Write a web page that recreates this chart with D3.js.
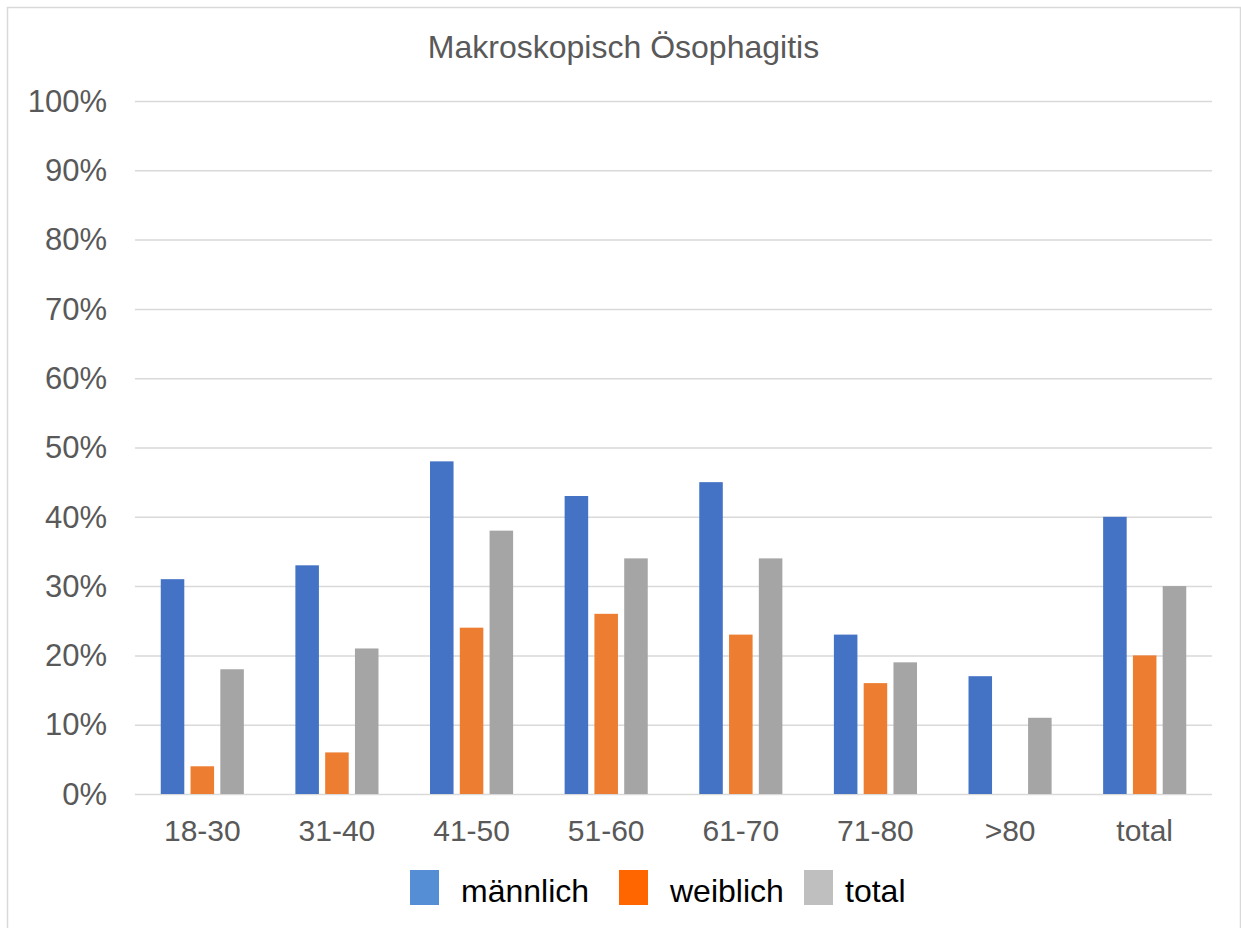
<!doctype html>
<html lang="de">
<head>
<meta charset="UTF-8" />
<title>Makroskopisch Ösophagitis</title>
<script src="https://d3js.org/d3.v7.min.js"></script>
<style>
  body { margin: 0; background: #fff; font-family: 'Liberation Sans', Arial, sans-serif; }
  .grid line { stroke: #d9d9d9; stroke-width: 1.5px; }
  .axis text { fill: #595959; font-size: 30px; }
  .yaxis text { font-size: 31px; }
</style>
</head>
<body>
<div id="chart-container"></div>
<script>
var categories = ['18-30', '31-40', '41-50', '51-60', '61-70', '71-80', '>80', 'total'];
var seriesNames = ['männlich', 'weiblich', 'total'];
var maennlich = [31, 33, 48, 43, 45, 23, 17, 40];
var weiblich = [4, 6, 24, 26, 23, 16, 0, 20];
var gesamt = [18, 21, 38, 34, 34, 19, 11, 30];
var yTicks = [0, 10, 20, 30, 40, 50, 60, 70, 80, 90, 100];

var barColors = ['#4472C4', '#ED7D31', '#A5A5A5'];
var legendColors = ['#558ED5', '#FF6600', '#BFBFBF'];

var canvasWidth = 1241;
var canvasHeight = 928;
var margin = { top: 101, right: 29, bottom: 134, left: 135 };
var width = canvasWidth - margin.left - margin.right;
var height = canvasHeight - margin.top - margin.bottom;

var data = categories.map(function (c, i) {
    return { cat: c, values: [maennlich[i], weiblich[i], gesamt[i]] };
});

var svg = d3.select('#chart-container')
    .append('svg')
    .attr('width', canvasWidth)
    .attr('height', canvasHeight);

// chart frame
svg.append('rect')
    .attr('x', 7.5).attr('y', 7.5)
    .attr('width', canvasWidth - 8).attr('height', canvasHeight)
    .attr('fill', '#fff')
    .attr('stroke', '#d9d9d9')
    .attr('stroke-width', 1.5);

var g = svg.append('g')
    .attr('transform', 'translate(' + margin.left + ',' + margin.top + ')');

var x0 = d3.scaleBand().domain(categories).range([0, width]).padding(0);
var groupW = 83.1;
var x1 = d3.scaleBand()
    .domain(seriesNames)
    .range([(x0.bandwidth() - groupW) / 2, (x0.bandwidth() + groupW) / 2])
    .paddingInner(0.21)
    .paddingOuter(0);
var y = d3.scaleLinear().domain([0, 100]).range([height, 0]);

// gridlines
g.append('g')
    .attr('class', 'grid')
    .call(d3.axisLeft(y).tickValues(yTicks).tickSize(-width).tickFormat(''))
    .call(function (s) { s.select('.domain').remove(); });

// y axis labels
g.append('g')
    .attr('class', 'axis yaxis')
    .attr('transform', 'translate(-28,0)')
    .call(d3.axisLeft(y).tickValues(yTicks).tickSize(0).tickPadding(0)
        .tickFormat(function (d) { return d + '%'; }))
    .call(function (s) { s.select('.domain').remove(); })
    .selectAll('text').attr('dy', '0.33em');

// x axis labels
g.append('g')
    .attr('class', 'axis')
    .attr('transform', 'translate(0,' + height + ')')
    .call(d3.axisBottom(x0).tickSize(0).tickPadding(26))
    .call(function (s) { s.select('.domain').remove(); });

// bars
var groups = g.selectAll('.group')
    .data(data)
    .enter()
    .append('g')
    .attr('class', 'group')
    .attr('transform', function (d) { return 'translate(' + x0(d.cat) + ',0)'; });

groups.selectAll('rect')
    .data(function (d) {
        return d.values.map(function (v, i) { return { key: seriesNames[i], value: v, idx: i }; });
    })
    .enter()
    .append('rect')
    .attr('x', function (d) { return x1(d.key); })
    .attr('y', function (d) { return y(d.value); })
    .attr('width', x1.bandwidth())
    .attr('height', function (d) { return height - y(d.value); })
    .attr('fill', function (d) { return barColors[d.idx]; });

// title
svg.append('text')
    .attr('x', 623.5)
    .attr('y', 58)
    .attr('text-anchor', 'middle')
    .attr('fill', '#595959')
    .attr('font-size', '32px')
    .text('Makroskopisch Ösophagitis');

// legend
var legendX = [410, 619, 804];
var legend = svg.selectAll('.legend')
    .data(seriesNames)
    .enter()
    .append('g')
    .attr('class', 'legend')
    .attr('transform', function (d, i) { return 'translate(' + legendX[i] + ',870)'; });

legend.append('rect')
    .attr('width', 29)
    .attr('height', 35)
    .attr('fill', function (d, i) { return legendColors[i]; });

legend.append('text')
    .attr('x', function (d, i) { return i === 2 ? 41 : 51; })
    .attr('y', 32)
    .attr('fill', '#000')
    .attr('font-size', '32px')
    .text(function (d) { return d; });
</script>
</body>
</html>
